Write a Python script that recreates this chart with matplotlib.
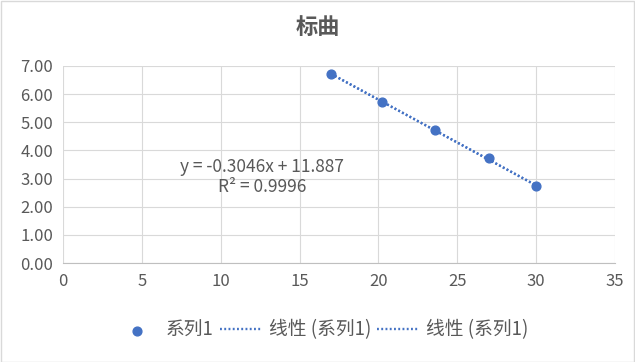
import matplotlib
matplotlib.use("Agg")
import matplotlib.pyplot as plt
import numpy as np

plt.rcParams['font.family'] = ['Noto Sans CJK SC', 'DejaVu Sans']

# data
xs = [17.0, 20.2, 23.6, 27.0, 30.0]
ys = [6.72, 5.72, 4.72, 3.72, 2.72]
title = '标曲'
series_name = '系列1'
trend_name = '线性 (系列1)'
eq_text = 'y = -0.3046x + 11.887\nR² = 0.9996'

blue = '#4472C4'
grey = '#595959'

fig = plt.figure(figsize=(6.35, 3.62), dpi=100)
fig.patches.append(plt.Rectangle((0.001, 0.001), 0.997, 0.996, transform=fig.transFigure,
                                 fill=False, edgecolor='#d9d9d9', lw=1))
ax = fig.add_axes([63/635, 1 - 263/362, 552/635, 197/362])

ax.scatter(xs, ys, s=40, color=blue, zorder=3, label=series_name)

k, b = np.polyfit(xs, ys, 1)
tx = np.array([min(xs), max(xs)])
for i in range(2):
    ax.plot(tx, k * tx + b, color=blue, lw=1.7, ls=(0, (0.8, 1.0)),
            dash_capstyle='butt', label=trend_name, zorder=2)

ax.text(12.6, 3.06, eq_text, ha='center', va='center', fontsize=12.5,
        color=grey, linespacing=1.1)

ax.set_xlim(0, 35)
ax.set_ylim(0, 7)
ax.set_xticks(range(0, 36, 5))
ax.set_yticks(range(0, 8))
ax.set_yticklabels(['%.2f' % v for v in range(0, 8)])
ax.grid(True, color='#d9d9d9', lw=0.8)
ax.set_axisbelow(True)
for s in ax.spines.values():
    s.set_visible(False)
ax.spines['bottom'].set_visible(True)
ax.spines['bottom'].set_color('#bfbfbf')
ax.tick_params(length=0, labelsize=12, labelcolor=grey, pad=7)

fig.text(0.5, 1 - 27/362, title, ha='center', va='center', fontsize=16,
         fontweight='bold', color=grey)

fig.legend(loc='center', bbox_to_anchor=(0.508, 1 - 330/362), ncol=3, frameon=False,
           fontsize=13.5, labelcolor=grey, handlelength=2.2, columnspacing=0.35,
           handletextpad=0.4, borderaxespad=0, borderpad=0)

fig.savefig('out.png', dpi=100)
